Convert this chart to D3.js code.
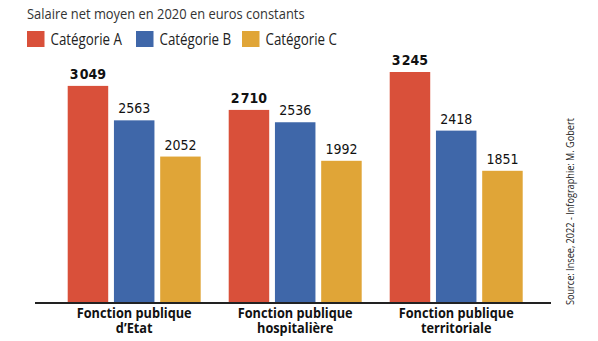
<!DOCTYPE html>
<html>
<head>
<meta charset="utf-8">
<script src="https://cdn.jsdelivr.net/npm/d3@7"></script>
<style>
  html, body { margin: 0; padding: 0; background: #fff; }
  svg { display: block; }
</style>
</head>
<body>
<div id="chart"></div>
<script>
// Average net salary in 2020 (constant euros), by civil service branch and category
const groups = [["Fonction publique", "d’Etat"], ["Fonction publique", "hospitalière"], ["Fonction publique", "territoriale"]];
const seriesNames = ["Catégorie A", "Catégorie B", "Catégorie C"];
const categorieA = [3049, 2710, 3245];
const categorieB = [2563, 2536, 2418];
const categorieC = [2052, 1992, 1851];
const seriesColors = ["#d9503a", "#3f67a9", "#e0a537"];

const W = 598, H = 341;
const svg = d3.select("#chart").append("svg").attr("width", W).attr("height", H);

const values = [categorieA, categorieB, categorieC];
const baseY = 302;

const x0 = d3.scaleBand().domain(d3.range(groups.length)).range([67.7, 522.7]).paddingInner(0.174).paddingOuter(0);
const x1 = d3.scaleBand().domain(d3.range(seriesNames.length)).range([0, x0.bandwidth()]).paddingInner(0.124);
const y = d3.scaleLinear().domain([0, d3.max(categorieA)]).range([baseY, 72]);

const sans = "Open Sans, sans-serif";
const cond = "DejaVu Sans Condensed, sans-serif";

// Squeeze a text horizontally to give a condensed face
function condense(sel, factor) {
  sel.each(function () {
    const w = this.getComputedTextLength();
    d3.select(this).attr("textLength", w * factor).attr("lengthAdjust", "spacingAndGlyphs");
  });
}

// Title
svg.append("text").attr("x", 27).attr("y", 18.5)
  .attr("font-family", sans).attr("font-size", 15)
  .attr("fill", "#333").text("Salaire net moyen en 2020 en euros constants")
  .call(condense, 0.86);

// Legend
const legendX = [27, 136, 242];
seriesNames.forEach((name, i) => {
  const g = svg.append("g").attr("transform", `translate(${legendX[i]},31)`);
  g.append("rect").attr("width", 17.5).attr("height", 16).attr("fill", seriesColors[i]);
  g.append("text").attr("x", 23.5).attr("y", 14)
    .attr("font-family", sans).attr("font-size", 15.5)
    .attr("fill", "#222").text(name)
    .call(condense, 0.86);
});

// Category A totals carry a hair-space thousands separator
const fmtThin = d3.formatLocale({ decimal: ",", thousands: "\u200A", grouping: [3], currency: ["", " €"] }).format(",");
const fmtPlain = d3.format("d");

// Bars and value labels
groups.forEach((grp, gi) => {
  const g = svg.append("g").attr("transform", `translate(${x0(gi)},0)`);
  values.forEach((vals, si) => {
    const v = vals[gi];
    g.append("rect")
      .attr("x", x1(si)).attr("y", y(v))
      .attr("width", x1.bandwidth()).attr("height", baseY - y(v))
      .attr("fill", seriesColors[si]);
    g.append("text")
      .attr("x", x1(si) + x1.bandwidth() / 2).attr("y", y(v) - 7)
      .attr("text-anchor", "middle")
      .attr("font-family", cond)
      .attr("font-weight", si === 0 ? "bold" : "normal")
      .attr("font-size", 14).attr("fill", "#111")
      .text(si === 0 ? fmtThin(v) : fmtPlain(v));
  });
});

// Baseline
svg.append("line").attr("x1", 35).attr("x2", 551).attr("y1", baseY + 1).attr("y2", baseY + 1)
  .attr("stroke", "#222").attr("stroke-width", 2);

// Group labels
groups.forEach((lines, gi) => {
  const cx = x0(gi) + x0.bandwidth() / 2;
  lines.forEach((ln, li) => {
    svg.append("text").attr("text-anchor", "middle")
      .attr("x", cx).attr("y", 318 + li * 14.5)
      .attr("font-family", sans)
      .attr("font-weight", "bold").attr("font-size", 14.8).attr("fill", "#111")
      .text(ln)
      .call(condense, 0.86);
  });
});

// Source credit, rotated
svg.append("text")
  .attr("transform", "translate(573.5,305) rotate(-90)")
  .attr("font-family", sans).attr("font-size", 10.5)
  .attr("fill", "#222").text("Source: Insee, 2022 - Infographie: M. Gobert")
  .call(condense, 0.87);
</script>
</body>
</html>
